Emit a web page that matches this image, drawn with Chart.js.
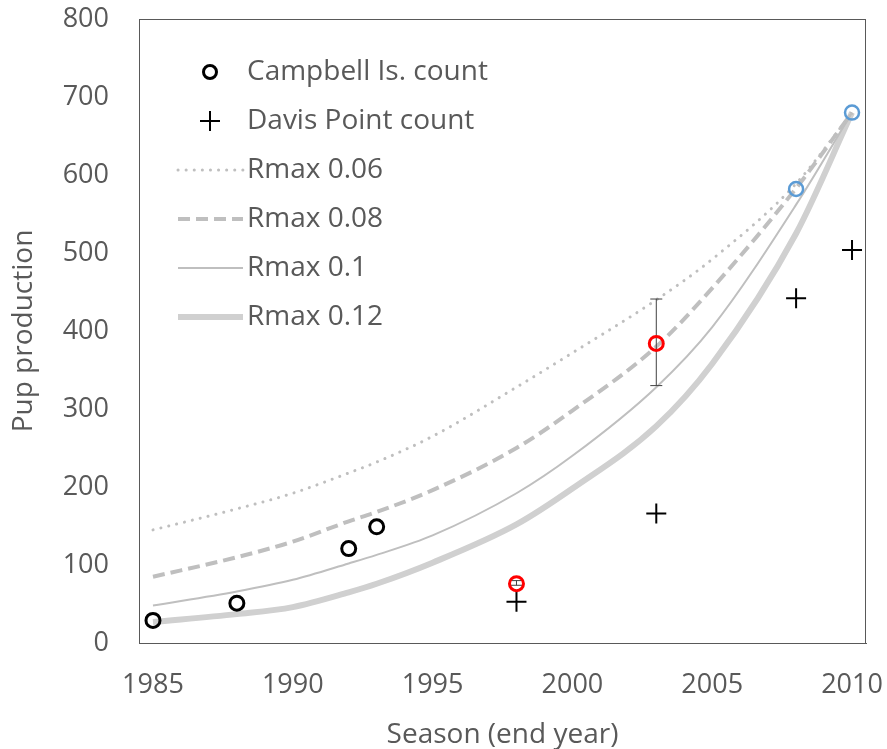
<!DOCTYPE html>
<html lang="en">
<head>
<meta charset="UTF-8">
<title>Pup production</title>
<script src="https://cdn.jsdelivr.net/npm/chart.js"></script>
<style>
  html, body { margin: 0; padding: 0; background: #fff; }
  .wrap { width: 887px; height: 749px; }
</style>
</head>
<body>
<div class="wrap"><canvas id="pupChart" width="887" height="749"></canvas></div>
<script>
// survey counts
const campYears = [1985, 1988, 1992, 1993, 1998, 2003, 2008, 2010];
const campCounts = [29, 51, 121, 149, 76, 384, 582, 680];
const davisYears = [1998, 2003, 2008, 2010];
const davisCounts = [53, 166, 442, 504];

// error bars on the Campbell counts
const errYears = [1998, 2003];
const errLow = [74, 330];
const errHigh = [80, 441];

// model trajectories
const curveYears = [1985, 1988, 1990, 1992, 1993, 1995, 1998, 2000, 2003, 2005, 2008, 2010];
const rmax06 = [145, 172, 192, 218, 232, 265, 328, 372, 440, 492, 589, 680];
const rmax08 = [85, 110, 130, 156, 168, 196, 250, 298, 380, 455, 583, 680];
const rmax10 = [48, 66, 81, 102, 113, 138, 192, 240, 328, 405, 562, 680];
const rmax12 = [27, 37, 46, 65, 76, 103, 152, 198, 278, 358, 525, 680];

const xTicks = [1985, 1990, 1995, 2000, 2005, 2010];
const yTicks = [0, 100, 200, 300, 400, 500, 600, 700, 800];

// colours per Campbell point (black = old, red = with CI, blue = recent)
const campColors = ['#000', '#000', '#000', '#000', '#FF0000', '#FF0000', '#5B9BD5', '#5B9BD5'];

const pts = (xs, ys) => xs.map((x, i) => ({ x: x, y: ys[i] }));
const FONT = 'Open Sans';
const TXT = '#595959';

const errSets = errYears.map((yr, i) => ({
  label: 'err' + yr,
  data: [{ x: yr, y: errLow[i] }, { x: yr, y: errHigh[i] }],
  showLine: true,
  borderColor: '#404040',
  borderWidth: 1,
  pointStyle: 'line',
  pointRadius: 6,
  pointBorderColor: '#404040',
  pointBorderWidth: 1,
  pointHoverRadius: 0
}));

const curve = (label, ys, color, width, dash, cap) => ({
  label: label,
  data: pts(curveYears, ys),
  showLine: true,
  borderColor: color,
  borderWidth: width,
  borderDash: dash,
  borderCapStyle: cap,
  cubicInterpolationMode: 'monotone',
  pointRadius: 0
});

const datasets = [
  {
    label: 'Campbell Is. count',
    data: pts(campYears, campCounts),
    pointStyle: 'circle',
    pointRadius: 7,
    pointBorderWidth: c => c.dataIndex >= 6 ? 2.5 : 3,
    pointBorderColor: campColors,
    pointBackgroundColor: 'rgba(0,0,0,0)'
  },
  {
    label: 'Davis Point count',
    data: pts(davisYears, davisCounts),
    pointStyle: 'cross',
    pointRadius: 10,
    pointBorderWidth: 2,
    pointBorderColor: '#000'
  },
  ...errSets,
  curve('Rmax 0.06', rmax06, '#BFBFBF', 3, [0.1, 8], 'round'),
  curve('Rmax 0.08', rmax08, '#BFBFBF', 4, [12, 6], 'butt'),
  curve('Rmax 0.1', rmax10, '#BFBFBF', 2, [], 'butt'),
  curve('Rmax 0.12', rmax12, '#D0D0D0', 6, [], 'butt')
];

const legendLabels = ['Campbell Is. count', 'Davis Point count', 'Rmax 0.06', 'Rmax 0.08', 'Rmax 0.1', 'Rmax 0.12'];

// legend + frame drawn inside the plot area
const insideLegend = {
  id: 'insideLegend',
  afterDatasetsDraw(chart) {
    const { ctx, chartArea } = chart;
    ctx.save();
    ctx.strokeStyle = '#595959';
    ctx.lineWidth = 1;
    ctx.strokeRect(chartArea.left + 0.5, chartArea.top + 0.5, chartArea.width - 1, chartArea.height);
    ctx.restore();

    const x0 = chartArea.left + 39, x1 = chartArea.left + 104, tx = chartArea.left + 108;
    const mx = chartArea.left + 71;
    legendLabels.forEach((name, i) => {
      const ds = chart.data.datasets.find(d => d.label === name);
      const y = chartArea.top + 53 + i * 49;
      ctx.save();
      if (ds.showLine) {
        ctx.strokeStyle = ds.borderColor;
        ctx.lineWidth = ds.borderWidth;
        ctx.setLineDash(ds.borderDash || []);
        ctx.lineCap = ds.borderCapStyle || 'butt';
        ctx.beginPath();
        ctx.moveTo(x0, y);
        ctx.lineTo(x1, y);
        ctx.stroke();
      } else if (ds.pointStyle === 'circle') {
        ctx.strokeStyle = '#000';
        ctx.lineWidth = 3;
        ctx.beginPath();
        ctx.arc(mx, y, 6.5, 0, Math.PI * 2);
        ctx.stroke();
      } else {
        ctx.strokeStyle = '#000';
        ctx.lineWidth = 2;
        ctx.beginPath();
        ctx.moveTo(mx - 10, y); ctx.lineTo(mx + 10, y);
        ctx.moveTo(mx, y - 10); ctx.lineTo(mx, y + 10);
        ctx.stroke();
      }
      ctx.setLineDash([]);
      ctx.fillStyle = TXT;
      ctx.font = '28px "' + FONT + '"';
      ctx.textBaseline = 'middle';
      ctx.fillText(name, tx, y);
      ctx.restore();
    });
  }
};

const noPad = s => { s.paddingTop = 0; s.paddingBottom = 0; s.paddingLeft = 0; s.paddingRight = 0; };

new Chart(document.getElementById('pupChart'), {
  type: 'scatter',
  data: { datasets: datasets },
  plugins: [insideLegend],
  options: {
    responsive: false,
    animation: false,
    layout: { padding: { top: 19, right: 21, left: 0, bottom: 0 } },
    plugins: { legend: { display: false }, tooltip: { enabled: false } },
    scales: {
      x: {
        type: 'linear',
        min: 1984.5,
        max: 2010.5,
        afterBuildTicks: s => { s.ticks = xTicks.map(v => ({ value: v })); },
        afterFit: s => { s.height = 106; noPad(s); },
        grid: { display: false, drawTicks: false },
        border: { display: true, color: '#595959' },
        ticks: { color: TXT, font: { family: FONT, size: 27 }, padding: 26, maxRotation: 0, callback: v => String(v) },
        title: { display: true, text: 'Season (end year)', color: TXT, font: { family: FONT, size: 28, lineHeight: 1 }, padding: { top: 0, bottom: 0 } }
      },
      y: {
        min: 0,
        max: 800,
        afterBuildTicks: s => { s.ticks = yTicks.map(v => ({ value: v })); },
        afterFit: s => { s.width = 139; noPad(s); },
        grid: { display: false, drawTicks: false },
        border: { display: true, color: '#595959' },
        ticks: { color: TXT, font: { family: FONT, size: 27 }, padding: 30, callback: v => String(v) },
        title: { display: true, text: 'Pup production', color: TXT, font: { family: FONT, size: 28 }, padding: { top: 7, bottom: 0 } }
      }
    }
  }
});
</script>
</body>
</html>
